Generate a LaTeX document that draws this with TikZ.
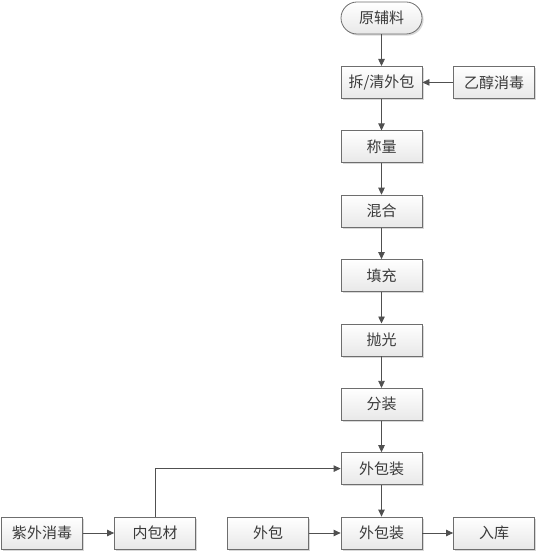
\documentclass[tikz,border=0pt]{standalone}
\usepackage{fontspec}
\setmainfont{Noto Sans CJK SC}
\usetikzlibrary{arrows.meta,shadows,shapes.misc}
\definecolor{boxline}{HTML}{6E6E6E}
\definecolor{txt}{HTML}{3A3A3A}
\definecolor{conn}{HTML}{505050}
\tikzset{
  procbox/.style={draw=boxline, line width=0.8pt, minimum width=81pt, minimum height=32pt,
    inner sep=0pt, top color=white, bottom color=black!9, text=txt,
    font=\fontsize{15}{15}\selectfont,
    drop shadow={shadow xshift=1.6pt, shadow yshift=-1.6pt, fill=black!30, opacity=0.5}},
  termbox/.style={procbox, rounded corners=16pt},
  flow/.style={draw=conn, line width=0.8pt, -{Triangle[length=7pt,width=6.5pt]}}
}
\begin{document}
\begin{tikzpicture}[x=1pt,y=-1pt]
\useasboundingbox (0,0) rectangle (539,553);
\node[termbox] (raw) at (381.5,18) {原辅料};
\node[procbox] (unpack) at (381.5,82.4) {拆/清外包};
\node[procbox] (ethanol) at (494,82.4) {乙醇消毒};
\node[procbox] (weigh) at (381.5,146.8) {称量};
\node[procbox] (mix) at (381.5,211.1) {混合};
\node[procbox] (fill) at (381.5,275.5) {填充};
\node[procbox] (polish) at (381.5,339.9) {抛光};
\node[procbox] (split) at (381.5,404.3) {分装};
\node[procbox] (pack1) at (381.5,468.6) {外包装};
\node[procbox] (pack2) at (381.5,533) {外包装};
\node[procbox] (store) at (494,533) {入库};
\node[procbox] (outer) at (268,533) {外包};
\node[procbox] (inner) at (155,533) {内包材};
\node[procbox] (uv) at (42,533) {紫外消毒};
\draw[flow] (raw) -- (unpack);
\draw[flow] (ethanol) -- (unpack);
\draw[flow] (unpack) -- (weigh);
\draw[flow] (weigh) -- (mix);
\draw[flow] (mix) -- (fill);
\draw[flow] (fill) -- (polish);
\draw[flow] (polish) -- (split);
\draw[flow] (split) -- (pack1);
\draw[flow] (pack1) -- (pack2);
\draw[flow] (pack2) -- (store);
\draw[flow] (outer) -- (pack2);
\draw[flow] (uv) -- (inner);
\draw[flow] (inner.north) |- (pack1.west);
\end{tikzpicture}
\end{document}
